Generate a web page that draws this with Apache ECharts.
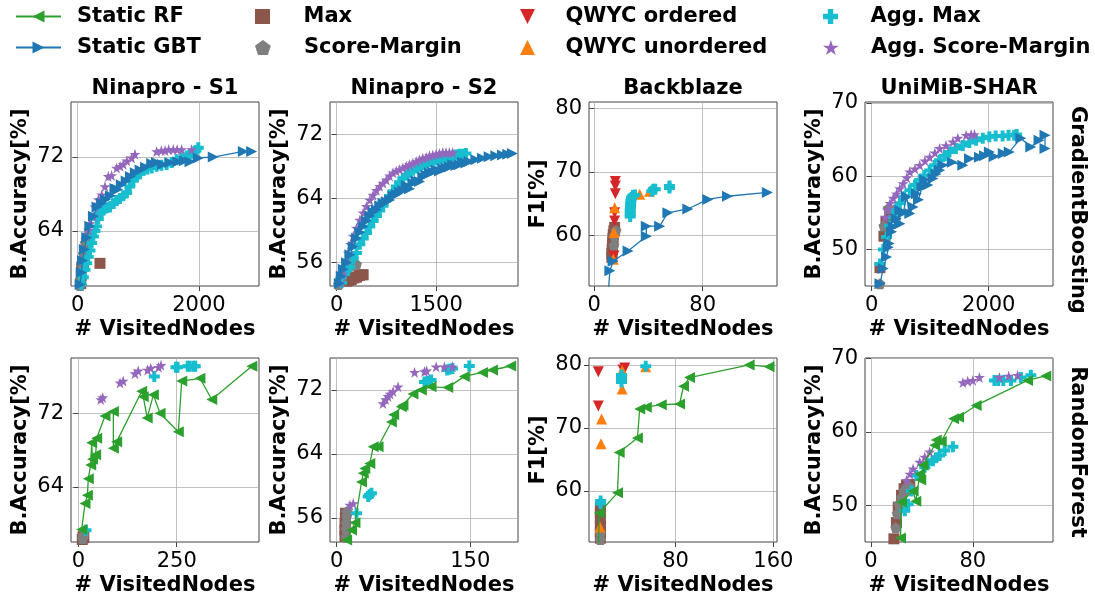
<!DOCTYPE html>
<html>
<head>
<meta charset="utf-8">
<script src="https://cdn.jsdelivr.net/npm/echarts@6/dist/echarts.min.js"></script>
<style>
  html, body { margin: 0; padding: 0; background: #fff; }
  #chart { width: 1095px; height: 599px; }
</style>
</head>
<body>
<div id="chart"></div>
<script>
// panel titles / row labels
const datasets = ['Ninapro - S1', 'Ninapro - S2', 'Backblaze', 'UniMiB-SHAR'];
const models = ['GradientBoosting', 'RandomForest'];
const yNames = ['B.Accuracy[%]', 'B.Accuracy[%]', 'F1[%]', 'B.Accuracy[%]'];

// axis ranges and tick labels, panel order: GB row then RF row
const xRanges = [[-110, 2990], [-100, 2735], [-3.9, 134.8], [-114, 3100],
                 [-18.6, 459], [-7.5, 203.6], [9.2, 163], [-4.7, 143]];
const yRanges = [[58.05, 77.95], [53.1, 76], [52.1, 81], [45, 70.14],
                 [58.03, 78], [53, 76], [51.9, 81.1], [45.07, 70.04]];
const xTicks = [[0, 2000], [0, 1500], [0, 80], [0, 2000],
                [0, 250], [0, 150], [80, 160], [0, 80]];
const yTicks = [[64, 72], [56, 64, 72], [60, 70, 80], [50, 60, 70],
                [64, 72], [56, 64, 72], [60, 70, 80], [50, 60, 70]];

// ---- GradientBoosting row ----
const gbS1Static = [[40,58.2],[60,59.5],[80,60.8],[110,62],[150,63.3],[200,64.5],[260,65.6],[320,66.6],[396,67.0],[460,67.4],[540,67.8],[615,68.6],[660,68.5],[720,69.0],[800,69.4],[870,69.9],[950,70.3],[1030,70.6],[1120,70.9],[1220,71.3],[1300,71.4],[1400,71.2],[1520,71.4],[1650,71.5],[1760,71.6],[1852,71.5],[1989,71.9],[2236,72.0],[2731,72.6],[2868,72.6]];
const gbS1Max = [[50,58.3],[60,59.2],[66,60.1],[80,60.5],[95,60.2],[368,60.5]];
const gbS1Sm = [[40,58.1],[55,58.8],[65,59.5],[75,60.2],[85,60.9],[95,61.5],[110,62.1],[125,62.7],[140,63.1],[155,63.4],[176,63.6]];
const gbS1AggMax = [[60,58.2],[93,59],[120,59.8],[148,60.5],[175,61.2],[203,61.9],[230,62.7],[258,63.4],[285,64.0],[313,64.5],[340,65.3],[368,65.9],[395,66.1],[423,66.3],[478,66.5],[533,66.6],[590,67],[640,67.3],[698,67.5],[750,67.8],[808,68.1],[860,68.8],[918,69.5],[970,69.8],[1030,70.2],[1082,70.6],[1150,70.7],[1220,70.8],[1302,71.0],[1380,71.1],[1467,71.2],[1550,71.4],[1632,71.7],[1710,71.9],[1797,72.1],[1850,72.3],[1907,72.4],[1950,72.7],[1989,73.0]];
const gbS1AggSm = [[176,64.1],[203,64.8],[258,65.6],[286,66.6],[341,67.4],[396,67.9],[450,68.8],[505,69.9],[560,70.0],[643,70.8],[700,71.0],[753,71.2],[810,71.6],[890,71.9],[945,72.3],[1302,72.6],[1380,72.7],[1440,72.7],[1500,72.8],[1577,72.8],[1640,72.8],[1714,72.8],[1879,72.8]];

const gbS2Static = [[40,53.4],[70,54.3],[100,55.2],[150,56],[200,57],[250,58],[300,59],[350,59.8],[400,60.5],[450,61.2],[500,61.8],[550,62.3],[600,62.6],[650,63.1],[700,63.4],[750,63.6],[800,63.8],[850,64.3],[900,64.5],[950,64.8],[1000,65],[1050,65.6],[1100,65.2],[1150,65.9],[1200,66.2],[1250,66.1],[1300,66.7],[1350,66.9],[1400,67.2],[1450,67.3],[1500,67.5],[1550,67.4],[1600,67.7],[1650,67.8],[1700,67.9],[1750,68.2],[1800,68.1],[1850,68.2],[1900,68.5],[1950,68.4],[2000,68.6],[2100,68.8],[2200,69.0],[2300,69.2],[2400,69.3],[2500,69.4],[2580,69.5],[2650,69.6]];
const gbS2Max = [[150,53.7],[180,53.8],[220,53.9],[260,54.1],[300,54.2],[340,54.4],[380,54.5],[400,54.5]];
const gbS2Sm = [[30,53.3],[60,54],[90,54.6],[120,55],[160,55.4],[200,55.6],[250,55.8],[300,55.8]];
const gbS2AggMax = [[75,53.5],[120,54.6],[160,55.2],[200,55.5],[250,56.5],[300,57.2],[350,58.3],[400,59],[450,59.7],[500,60.5],[550,61.2],[600,61.8],[650,62.5],[700,63.1],[750,63.8],[800,64.3],[850,64.9],[900,65.5],[950,66],[1000,66.5],[1050,66.9],[1100,67.2],[1150,67.5],[1200,67.8],[1250,68],[1300,68.2],[1350,68.4],[1400,68.6],[1450,68.7],[1500,68.8],[1550,68.9],[1600,69],[1650,69.1],[1700,69.2],[1750,69.3],[1800,69.4],[1850,69.5],[1900,69.5],[1950,69.6]];
const gbS2AggSm = [[50,53.5],[80,54.5],[100,55.1],[140,56.2],[175,57.2],[210,58.3],[250,59.3],[300,60.3],[350,61.3],[400,62.2],[450,63.0],[500,63.8],[550,64.4],[600,65],[650,65.5],[700,65.9],[750,66.3],[800,66.8],[850,67.2],[900,67.4],[950,67.6],[1000,67.8],[1050,68],[1100,68.2],[1150,68.4],[1200,68.6],[1250,68.8],[1300,69],[1350,69.1],[1400,69.3],[1450,69.4],[1500,69.5],[1550,69.6],[1600,69.7],[1650,69.7],[1700,69.7],[1750,69.7]];

const gbBbStatic = [[10.3,51],[11.5,54.5],[13.9,56.0],[24.9,57.6],[38.4,59.9],[38.4,61.5],[48.2,61.5],[54.3,63.6],[69,64.2],[83.7,65.7],[98.3,66.2],[127.7,66.8]];
const gbBbMax = [[13,56.6],[13,57.2],[13.2,57.8],[13.4,58.4],[13.6,59],[13.8,59.6],[14,60.2],[14.5,60.8],[15,61.3]];
const gbBbSm = [[14.5,58.5],[15,60],[16,60.8]];
const gbBbQOrd = [[15.5,68.5],[15.5,67.8],[15.5,66.6],[15,63.6],[15,62.3],[14.5,56.8]];
const gbBbQUnord = [[15,64.4],[14.5,60.5],[14,56.3],[33.5,66.5],[40.8,67.0]];
const gbBbAggMax = [[26.5,63.0],[26.5,63.5],[26.5,64.0],[26.7,64.5],[26.8,65.0],[27,65.5],[27.5,66.0],[28.5,66.3],[30,66.4],[42.5,67.0],[43.5,67.3],[45,67.3],[55.5,67.8],[55.5,67.5]];

const gbUniStatic = [[142,45.3],[198,47.4],[255,48.95],[283,50.3],[300,50.8],[340,52.4],[368,53.1],[420,54.2],[482,53.5],[482,55.3],[540,55.0],[595,57.2],[652,54.9],[708,55.8],[765,57.6],[800,56.8],[860,58.5],[907,59.5],[960,58.8],[1048,59.7],[1100,60.3],[1162,60.8],[1218,61.5],[1380,61.9],[1558,61.5],[1672,62.4],[1842,62.6],[1930,62.8],[2012,63.3],[2096,62.7],[2250,63.1],[2351,63.3],[2550,65.2],[2720,64.0],[2861,64.9],[2963,65.6],[2963,63.8]];
const gbUniMax = [[142,47.5],[210,51.8],[244,53.7],[312,54.4]];
const gbUniSm = [[142,45.3],[210,53.2],[283,55.6],[413,55.6]];
const gbUniAggMax = [[142,48.0],[200,50],[255,51.7],[310,53.2],[368,54.4],[420,55.4],[482,56.3],[560,57.2],[652,58.1],[740,58.8],[822,59.5],[900,60.1],[992,60.8],[1080,61.5],[1162,62.2],[1250,62.8],[1331,63.3],[1440,63.8],[1558,64.2],[1670,64.6],[1785,64.9],[1900,65.2],[2012,65.4],[2120,65.5],[2238,65.5],[2340,65.6],[2436,65.6],[2480,65.7]];
const gbUniAggSm = [[227,54.4],[270,55.4],[312,56.3],[370,57],[425,57.6],[480,58.3],[538,59.0],[600,59.8],[652,60.6],[740,61.0],[822,61.5],[910,62.1],[992,62.6],[1080,63.2],[1162,63.8],[1270,64.2],[1388,64.7],[1473,65.2],[1615,65.6],[1700,65.7],[1757,65.7]];

// ---- RandomForest row ----
const rfS1Static = [[8.5,59.4],[17,62.2],[23,63.1],[25.4,64.9],[31.4,66.4],[33.9,68.8],[36,67],[44,67.5],[46.6,69.3],[67.8,71.7],[89,72.2],[89,68.2],[97.4,68.9],[161,74.4],[165,73.8],[175,71.5],[190.7,74.0],[207.6,72.0],[254,70.0],[262.7,75.5],[309,75.8],[339,73.5],[440.7,77.1]];
const rfS1Max = [[10,58.3],[12,58.6],[14,58.5]];
const rfS1Sm = [[11,58.4],[13,58.7]];
const rfS1AggMax = [[19.5,59.3],[193,76.0],[248,77.0],[252,77.0],[278,77.1],[283,77.1],[293,77.1],[297,77.1]];
const rfS1AggSm = [[57,73.5],[62,73.7],[106,75.3],[114,75.5],[144,76.3],[152,76.6],[176,76.7],[184,76.9],[204,77.0],[210,77.2]];

const rfS2Static = [[11.2,53.25],[16.7,54.5],[20.5,55.4],[27.9,60.5],[29.8,61.6],[31.6,62.2],[37.2,62.8],[41,64.9],[46.5,64.9],[61.4,68.0],[64,68.9],[72.6,69.9],[74.4,70.1],[85.6,71.5],[95,72.0],[106,72.4],[124.7,72.3],[143.3,73.7],[163.8,74.2],[175,74.5],[195.4,75.0]];
const rfS2Max = [[9.3,53.7],[9.3,54.5],[9.5,55.3],[9.7,56.0],[10,56.6]];
const rfS2Sm = [[10.5,53.6],[10.7,54.6],[11,55.4],[11.2,56.2],[11.5,56.8]];
const rfS2AggMax = [[22.3,56.6],[35.4,58.7],[37,58.9],[39,59.1],[98.6,73.0],[102,73.1],[106,73.25],[124,74.5],[126.5,74.6],[130,74.7],[148.9,75.0]];
const rfS2AggSm = [[14.9,57.6],[18.6,57.8],[52,70.3],[55,70.8],[57.7,71.2],[60,71.5],[63.3,71.8],[68.9,72.4],[87.5,74.2],[98.6,74.3],[101,74.4],[111.7,74.9],[121,74.9],[130,74.9]];

const rfBbStatic = [[16.8,51],[17.6,56.5],[32.5,59.7],[33.9,66.1],[48.8,68.4],[50.7,73.0],[56.1,73.3],[68.3,73.7],[83.3,73.8],[86.5,76.6],[91.4,78.0],[140.2,80.0],[156.5,79.7]];
const rfBbMax = [[18.5,52.5],[18.5,53.5],[18.5,54.5],[18.5,55.5],[18.5,56.5],[18.5,57.5]];
const rfBbSm = [[18.5,52.3],[18.7,53.2]];
const rfBbQOrd = [[16.8,78.9],[16.8,73.5],[37,79.2],[38.5,79.5]];
const rfBbQUnord = [[19.5,71.4],[19,67.5],[18.2,54.3],[36.3,79.1],[36.3,76.2],[55.6,79.7]];
const rfBbAggMax = [[18.7,58.0],[18.7,58.4],[35.8,77.3],[35.8,77.9],[35.8,78.4],[55.6,79.8]];

const rfUniStatic = [[23.2,45.6],[24,50.5],[33.1,52.0],[35.2,50.6],[38.3,54.3],[39.1,53.5],[40.9,55.5],[50,58.2],[51.3,58.9],[55.2,58.7],[64.9,61.8],[68.8,62.0],[82.6,63.6],[123,67.0],[137.3,67.6]];
const rfUniMax = [[18,45.5],[20,47.7],[21.4,49.8],[24,51.4],[26,52.3],[27.9,52.8],[30.5,52.9]];
const rfUniSm = [[19.5,47.0],[20.6,48.9],[22,50.2],[24,51.1],[26,52],[27.9,52.5],[30.5,52.6]];
const rfUniAggMax = [[26.6,49.3],[29.2,50.2],[31.8,52.0],[35.7,54.1],[42.2,55.2],[45,55.7],[48.7,56.1],[51,56.5],[53.9,56.8],[57.9,57.5],[64.4,58.0],[97,67.0],[100,67.0],[104,67.0],[110,67.0],[117.8,67.4],[125.6,67.7]];
const rfUniAggSm = [[27.9,53.4],[30.5,54.3],[33.1,55.0],[38.3,55.9],[42.2,56.6],[46.1,57.3],[72.2,66.7],[76,66.9],[80,67.0],[85.2,67.4],[100.9,67.4],[108.2,67.6],[115.2,67.7]];

const FONT = '"DejaVu Sans", sans-serif';
const COLORS = {
  rf: '#2ca02c', gbt: '#1f77b4', max: '#8c564b', sm: '#7f7f7f',
  qo: '#d62728', qu: '#ff7f0e', aggMax: '#17becf', aggSm: '#9467bd'
};
const SYM = {
  left: 'path://M0,5L10,0L10,10Z',
  right: 'path://M10,5L0,0L0,10Z',
  down: 'path://M0,0L10,0L5,10Z',
  up: 'path://M5,0L10,10L0,10Z',
  square: 'path://M0,0L10,0L10,10L0,10Z',
  pentagon: 'path://M5,0L10,3.6L8.1,9.5L1.9,9.5L0,3.6Z',
  plus: 'path://M3.2,0H6.8V3.2H10V6.8H6.8V10H3.2V6.8H0V3.2H3.2Z',
  star: 'path://M5,0L6.2,3.6L10,3.6L6.9,5.9L8.1,9.5L5,7.3L1.9,9.5L3.1,5.9L0,3.6L3.8,3.6Z'
};
const MS = 11; // marker size

// what goes in every panel
const panelData = [
  { stat: gbS1Static, max: gbS1Max, sm: gbS1Sm, aggMax: gbS1AggMax, aggSm: gbS1AggSm },
  { stat: gbS2Static, max: gbS2Max, sm: gbS2Sm, aggMax: gbS2AggMax, aggSm: gbS2AggSm },
  { stat: gbBbStatic, max: gbBbMax, sm: gbBbSm, qo: gbBbQOrd, qu: gbBbQUnord, aggMax: gbBbAggMax },
  { stat: gbUniStatic, max: gbUniMax, sm: gbUniSm, aggMax: gbUniAggMax, aggSm: gbUniAggSm },
  { stat: rfS1Static, max: rfS1Max, sm: rfS1Sm, aggMax: rfS1AggMax, aggSm: rfS1AggSm },
  { stat: rfS2Static, max: rfS2Max, sm: rfS2Sm, aggMax: rfS2AggMax, aggSm: rfS2AggSm },
  { stat: rfBbStatic, max: rfBbMax, sm: rfBbSm, qo: rfBbQOrd, qu: rfBbQUnord, aggMax: rfBbAggMax },
  { stat: rfUniStatic, max: rfUniMax, sm: rfUniSm, aggMax: rfUniAggMax, aggSm: rfUniAggSm }
];

const colLeft = [71, 330, 589, 865];
const rowTop = [102, 358];
const panelW = 188, panelH = 184;

let grids = [], xAxes = [], yAxes = [], series = [], graphics = [];

function scatter(name, i, data, sym, color) {
  return {
    type: 'scatter', name: name, xAxisIndex: i, yAxisIndex: i, data: data,
    symbol: sym, symbolSize: MS, itemStyle: { color: color, opacity: 1 },
    clip: true, silent: true
  };
}

const tickFmt = (v) => String(v);

panelData.forEach((p, i) => {
  const row = i < 4 ? 0 : 1;
  const col = i % 4;
  grids.push({
    left: colLeft[col], top: rowTop[row], width: panelW, height: panelH,
    show: true, borderColor: '#444', borderWidth: 1, containLabel: false
  });
  xAxes.push({
    type: 'value', gridIndex: i, min: xRanges[i][0], max: xRanges[i][1],
    axisLine: { show: false },
    axisTick: { show: true, length: 5, customValues: xTicks[i], lineStyle: { color: '#444' } },
    axisLabel: { customValues: xTicks[i], formatter: tickFmt, fontSize: 21, color: '#000', fontFamily: FONT, margin: 9 },
    splitLine: { show: true, lineStyle: { color: '#b0b0b0', width: 0.8 } },
    name: '# VisitedNodes', nameLocation: 'middle', nameGap: 33,
    nameTextStyle: { fontSize: 21, fontWeight: 'bold', color: '#000', fontFamily: FONT }
  });
  yAxes.push({
    type: 'value', gridIndex: i, min: yRanges[i][0], max: yRanges[i][1],
    axisLine: { show: false },
    axisTick: { show: true, length: 5, customValues: yTicks[i], lineStyle: { color: '#444' } },
    axisLabel: { customValues: yTicks[i], formatter: tickFmt, fontSize: 21, color: '#000', fontFamily: FONT, margin: 7 },
    splitLine: { show: true, lineStyle: { color: '#b0b0b0', width: 0.8 } },
    name: yNames[col], nameLocation: 'middle', nameGap: 40, nameRotate: 90,
    nameTextStyle: { fontSize: 21, fontWeight: 'bold', color: '#000', fontFamily: FONT }
  });

  const isRF = row === 1;
  series.push({
    type: 'line', name: isRF ? 'Static RF' : 'Static GBT',
    xAxisIndex: i, yAxisIndex: i, data: p.stat,
    symbol: isRF ? SYM.left : SYM.right, symbolSize: MS, showSymbol: true,
    lineStyle: { color: isRF ? COLORS.rf : COLORS.gbt, width: 1.3 },
    itemStyle: { color: isRF ? COLORS.rf : COLORS.gbt },
    clip: true, silent: true
  });
  series.push(scatter('Max', i, p.max, SYM.square, COLORS.max));
  series.push(scatter('Score-Margin', i, p.sm, SYM.pentagon, COLORS.sm));
  if (p.qo) series.push(scatter('QWYC ordered', i, p.qo, SYM.down, COLORS.qo));
  if (p.qu) series.push(scatter('QWYC unordered', i, p.qu, SYM.up, COLORS.qu));
  series.push(scatter('Agg. Max', i, p.aggMax, SYM.plus, COLORS.aggMax));
  series.push(scatter('Agg. Score-Margin', i, p.aggSm || [], SYM.star, COLORS.aggSm));

  if (row === 0) {
    graphics.push({
      type: 'text', x: colLeft[col] + panelW / 2, y: 89,
      style: { text: datasets[col], font: 'bold 21px ' + FONT, fill: '#000',
               textAlign: 'center', textVerticalAlign: 'middle' }
    });
  }
});

models.forEach((m, r) => {
  graphics.push({
    type: 'text', x: 1077, y: r === 0 ? 210 : 452, rotation: -Math.PI / 2,
    style: { text: m, font: 'bold 21px ' + FONT, fill: '#000',
             textAlign: 'center', textVerticalAlign: 'middle' }
  });
});

function legendItem(name, left, top, w, pad) {
  return {
    data: [name], left: left, top: top, padding: 0,
    itemWidth: w, itemHeight: 15, selectedMode: false,
    textStyle: { fontSize: 21, fontWeight: 'bold', color: '#000', fontFamily: FONT, padding: [0, 0, 0, pad] }
  };
}

const legends = [
  legendItem('Static RF', 15, 6, 45, 11),
  legendItem('Static GBT', 15, 37, 45, 11),
  legendItem('Max', 255, 6, 42, 15),
  legendItem('Score-Margin', 255, 37, 42, 15),
  legendItem('QWYC ordered', 520, 6, 42, 12),
  legendItem('QWYC unordered', 520, 37, 42, 12),
  legendItem('Agg. Max', 823, 6, 42, 14),
  legendItem('Agg. Score-Margin', 823, 37, 42, 14)
];

const chart = echarts.init(document.getElementById('chart'), null, { renderer: 'canvas' });
chart.setOption({
  backgroundColor: '#fff',
  animation: false,
  textStyle: { fontFamily: FONT },
  legend: legends,
  grid: grids,
  xAxis: xAxes,
  yAxis: yAxes,
  series: series,
  graphic: graphics
});
</script>
</body>
</html>
